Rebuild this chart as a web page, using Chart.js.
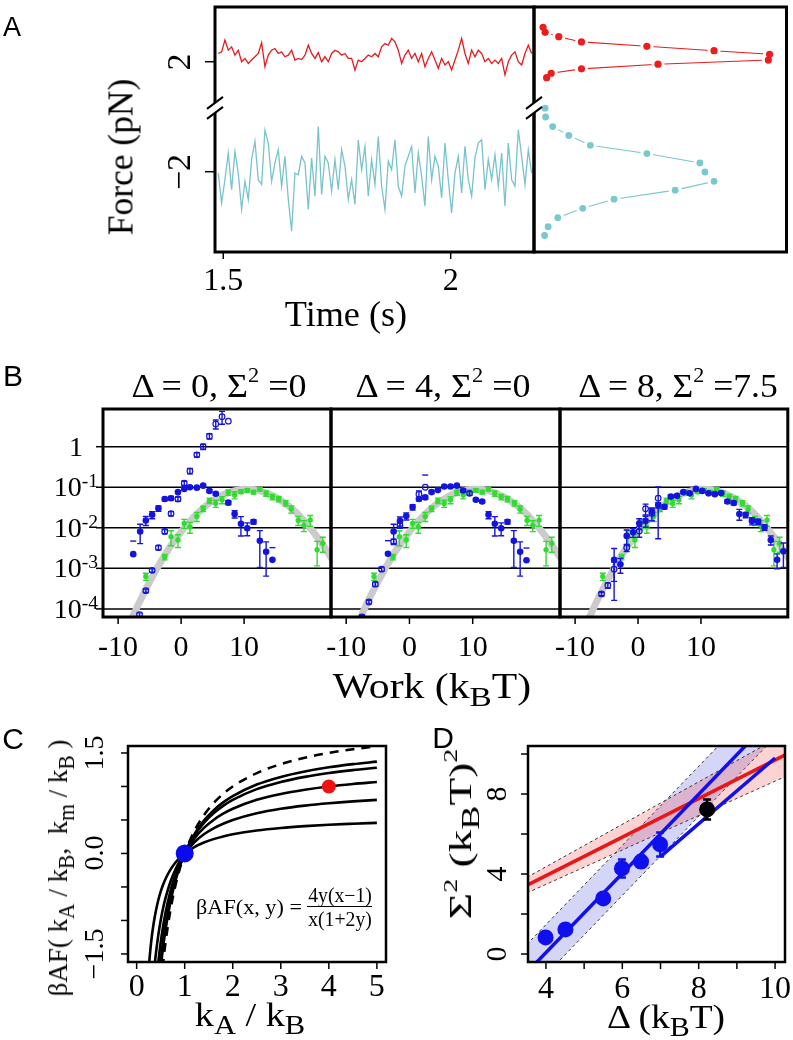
<!DOCTYPE html>
<html>
<head>
<meta charset="utf-8">
<script src="https://cdn.jsdelivr.net/npm/chart.js@4.4.1/dist/chart.umd.min.js"></script>
<style>
  html, body { margin: 0; padding: 0; background: #fff; }
  #page { position: relative; width: 793px; height: 1040px; overflow: hidden; }
  #page canvas { position: absolute; left: 0; top: 0; }
  .lbl { position: absolute; white-space: nowrap; line-height: 1; color: #000;
         font-family: "Liberation Serif", "DejaVu Serif", serif; }
  .sans { font-family: "Liberation Sans", "DejaVu Sans", sans-serif; }
  .lbl sub { font-size: 0.8em; vertical-align: -0.3em; line-height: 0; }
  .lbl sup { font-size: 0.62em; vertical-align: 0.7em; line-height: 0; }
  .lbl.tick sup { font-size: 0.7em; vertical-align: 0.45em; }
</style>
</head>
<body>
<div id="page"></div>
<script>
// ---- A: force traces (pN), one sample every traceStep seconds
var traceStart = 1.489, traceStep = 0.00733;
var redTrace = [2.30, 2.36, 2.79, 2.42, 2.54, 2.24, 2.42, 2.00, 2.12, 1.94,
  2.06, 2.18, 2.30, 2.69, 1.82, 2.24, 2.42, 2.48, 2.30, 2.36,
  2.18, 2.24, 2.42, 2.06, 2.12, 2.08, 2.24, 2.60, 2.30, 2.12,
  2.33, 2.00, 2.18, 2.00, 2.30, 2.42, 2.36, 2.24, 2.30, 2.12,
  2.12, 1.70, 2.06, 2.00, 2.12, 2.24, 2.18, 2.30, 2.18, 2.54,
  2.66, 2.60, 2.85, 2.72, 2.42, 1.94, 2.24, 2.42, 2.12, 2.30,
  2.00, 2.30, 1.82, 2.12, 2.36, 2.06, 1.76, 2.12, 1.88, 2.00,
  1.70, 2.06, 2.42, 2.85, 2.30, 1.94, 2.42, 2.18, 2.42, 2.30,
  2.00, 2.12, 1.94, 2.06, 1.94, 2.12, 1.52, 2.00, 2.24, 2.36,
  2.00, 1.88, 2.30, 2.60, 2.30];
var cyanTrace = [-2.05, -3.13, -2.29, -1.32, -2.65, -1.26, -2.05, -3.37, -2.35, -3.01,
  -1.56, -0.90, -2.29, -2.47, -0.48, -0.96, -2.35, -1.68, -1.20, -2.53,
  -1.44, -3.01, -4.16, -2.05, -2.11, -1.44, -1.68, -3.37, -1.50, -2.89,
  -0.36, -2.83, -1.44, -1.68, -2.71, -1.56, -2.65, -1.20, -1.80, -3.01,
  -2.29, -3.19, -0.84, -1.93, -1.08, -2.89, -1.56, -2.47, -0.72, -2.53,
  -3.37, -1.62, -1.93, -0.84, -2.53, -2.89, -1.80, -1.44, -1.08, -2.77,
  -1.32, -2.17, -3.25, -0.72, -2.29, -1.44, -1.80, -2.95, -0.96, -2.29,
  -3.50, -2.05, -1.44, -2.77, -1.08, -2.29, -2.89, -1.50, -0.96, -0.84,
  -2.65, -1.56, -2.29, -1.38, -2.53, -1.32, -3.25, -0.96, -2.29, -2.53,
  -0.48, -1.44, -2.47, -1.20, -2.05];
// ---- A: force histograms (relative counts)
var redHistCount = [0.036, 0.044, 0.098, 0.188, 0.447, 0.713, 0.933, 0.928, 0.491, 0.188, 0.068, 0.05];
var redHistForce = [3.25, 3.07, 2.91, 2.72, 2.56, 2.40, 2.27, 2.06, 1.91, 1.74, 1.58, 1.42];
var cyanHistCount = [0.044, 0.046, 0.074, 0.138, 0.223, 0.447, 0.657, 0.677, 0.713, 0.559, 0.317, 0.193, 0.094, 0.056, 0.042];
var cyanHistForce = [0.31, -0.01, -0.36, -0.68, -1.04, -1.34, -1.68, -2.01, -2.35, -2.67, -3.0, -3.33, -3.67, -4.0, -4.32];

// ---- B: work distributions, log10 P(W); errors are relative (sigma / P)
var greenW = [-5.6, -2.6, -1.6, -0.5, 0.5, 1.4, 2.5, 3.5, 4.5, 5.5, 6.5, 7.5, 8.5, 9.5, 10.5, 11.5, 12.5, 13.5, 14.5, 15.5, 16.6, 17.5, 18.6, 19.5, 20.5, 21.6, 22.5];
var greenP = [-3.20, -2.72, -2.22, -2.30, -1.89, -1.98, -1.72, -1.53, -1.33, -1.40, -1.31, -1.13, -1.19, -1.11, -1.08, -1.12, -1.05, -1.15, -1.24, -1.29, -1.39, -1.54, -1.82, -1.94, -1.81, -2.54, -2.38];
var greenErr = [0.2, 0.15, 0.4, 0.35, 0.25, 0.3, 0.25, 0.15, 0.15, 0.2, 0.2, 0.15, 0.2, 0.1, 0.1, 0.1, 0.1, 0.15, 0.15, 0.15, 0.15, 0.2, 0.25, 0.3, 0.3, 0.6, 0.4];
var gaussW = [-10, -8, -6, -4, -2, 0, 2, 4, 6, 8, 10, 12, 14, 16, 18, 20, 22, 24];
var gaussP = [-5.04, -4.30, -3.64, -3.05, -2.53, -2.10, -1.74, -1.45, -1.24, -1.11, -1.05, -1.07, -1.17, -1.34, -1.58, -1.91, -2.31, -2.78];

var b1FilledW = [-7.6, -6.5, -5.6, -4.6, -3.6, -2.6, -1.6, -0.5, 0.5, 1.4, 2.5, 3.5, 4.5, 5.5, 7.5, 8.5, 9.5, 10.5, 11.5, 12.5, 13.5, 14.5];
var b1FilledP = [-2.65, -2.09, -1.82, -1.68, -1.52, -1.29, -1.27, -1.12, -1.04, -1.00, -1.01, -0.96, -1.09, -1.16, -1.38, -1.66, -1.90, -2.01, -1.85, -2.32, -2.59, -2.79];
var b1FilledErr = [1.1, 0.5, 0.25, 0.2, 0.15, 0.1, 0.1, 0.08, 0.07, 0.06, 0.06, 0.06, 0.07, 0.08, 0.1, 0.2, 0.5, 0.35, 0.12, 0.78, 0.75, 1.0];
var b1OpenW = [-6.6, -5.6, -4.6, -3.6, -2.6, -1.6, -0.5, 0.5, 1.4, 2.5, 3.5, 4.5, 5.5, 6.5, 7.5];
var b1OpenP = [-4.14, -3.55, -3.05, -2.49, -2.09, -1.65, -1.29, -0.90, -0.60, -0.20, 0.00, 0.26, 0.56, 0.74, 0.63];
var b1OpenErr = [0.1, 0.1, 0.1, 0.12, 0.12, 0.12, 0.12, 0.12, 0.15, 0.12, 0.15, 0.15, 0.25, 0.35, 0];

var b2FilledW = [-3.4, -2.5, -1.5, -0.5, 0.5, 1.5, 2.5, 3.5, 4.5, 5.5, 6.5, 7.5, 8.5, 10.5, 11.5, 12.5, 13.5, 14.5, 15.5, 16.5, 17.5, 18.5];
var b2FilledP = [-2.64, -2.09, -1.83, -1.71, -1.49, -1.29, -1.25, -1.12, -1.07, -0.98, -0.98, -0.96, -1.08, -1.31, -1.35, -1.68, -1.90, -2.01, -1.85, -2.32, -2.59, -2.80];
var b2FilledErr = [1.1, 0.5, 0.25, 0.2, 0.15, 0.1, 0.1, 0.08, 0.07, 0.06, 0.06, 0.06, 0.07, 0.08, 0.08, 0.2, 0.5, 0.35, 0.12, 0.78, 0.75, 1.0];
var b2OpenW = [-7.5, -6.4, -5.4, -4.4, -2.5, -1.5, 1.5, 2.5, 9.5];
var b2OpenP = [-4.20, -3.83, -3.39, -3.02, -2.34, -1.94, -1.17, -1.00, -1.15];
var b2OpenErr = [0.1, 0.1, 0.12, 0.12, 0.15, 0.15, 0.2, 1.0, 0.1];

var b3FilledW = [-3.8, -2.8, -1.8, -0.8, 0.2, 1.2, 2.2, 3.2, 4.2, 5.2, 6.2, 7.2, 8.2, 9.2, 10.2, 11.2, 12.2, 13.2, 14.2, 15.2, 16.1, 17.1, 18.1, 19.1, 20.1, 21.1, 22.1, 23.1];
var b3FilledP = [-2.79, -2.90, -2.20, -2.11, -1.89, -1.83, -1.60, -1.44, -1.48, -1.23, -1.21, -1.12, -1.15, -1.04, -1.09, -1.15, -1.17, -1.14, -1.35, -1.39, -1.66, -1.68, -1.83, -1.85, -1.99, -2.30, -2.79, -2.58];
var b3FilledErr = [0.9, 0.4, 0.4, 0.25, 0.3, 0.3, 0.2, 0.15, 0.12, 0.1, 0.08, 0.06, 0.06, 0.06, 0.06, 0.06, 0.06, 0.06, 0.1, 0.1, 0.3, 0.15, 0.2, 0.15, 0.15, 0.25, 0.4, 0.6];
var b3OpenW = [-5.8, -4.8, -3.8, -1.8, 0.2, 1.2, 2.2, 3.2];
var b3OpenP = [-3.63, -3.42, -3.02, -2.49, -2.08, -1.53, -1.64, -1.27];
var b3OpenErr = [0.1, 0.15, 0.5, 0.2, 0.3, 0.3, 0.35, 0.9];

var workTicks = [-10, 0, 10], workTickLabels = ['-10', '0', '10'];
var probTicks = [0, -1, -2, -3, -4];
var probTickLabels = ['1', '10<sup>-1</sup>', '10<sup>-2</sup>', '10<sup>-3</sup>', '10<sup>-4</sup>'];

// ---- C: beta*A*F versus kA/kB, one curve per km/kB (0.2, 0.5, 1, 2, 3, limit)
var cRatio = [0.25, 0.3, 0.35, 0.4, 0.45, 0.5, 0.55, 0.6, 0.7, 0.8, 0.9, 1, 1.2, 1.4, 1.6, 1.8, 2, 2.5, 3, 3.5, 4, 4.5, 5];
var afY02 = [-1.714, -1.333, -1.061, -0.857, -0.698, -0.571, -0.468, -0.381, -0.245, -0.143, -0.063, 0, 0.095, 0.163, 0.214, 0.254, 0.286, 0.343, 0.381, 0.408, 0.429, 0.444, 0.457];
var afY05 = [-3, -2.333, -1.857, -1.5, -1.222, -1, -0.818, -0.667, -0.429, -0.25, -0.111, 0, 0.167, 0.286, 0.375, 0.444, 0.5, 0.6, 0.667, 0.714, 0.75, 0.778, 0.8];
var afY1 = [-4, -3.111, -2.476, -2, -1.630, -1.333, -1.091, -0.889, -0.571, -0.333, -0.148, 0, 0.222, 0.381, 0.5, 0.593, 0.667, 0.8, 0.889, 0.952, 1.0, 1.037, 1.067];
var afY2 = [-4.8, -3.733, -2.971, -2.4, -1.956, -1.6, -1.309, -1.067, -0.686, -0.4, -0.178, 0, 0.267, 0.457, 0.6, 0.711, 0.8, 0.96, 1.067, 1.143, 1.2, 1.244, 1.28];
var afY3 = [-5.143, -4.0, -3.184, -2.571, -2.095, -1.714, -1.403, -1.143, -0.735, -0.429, -0.190, 0, 0.286, 0.490, 0.643, 0.762, 0.857, 1.029, 1.143, 1.224, 1.286, 1.333, 1.371];
var afYInf = [-6, -4.667, -3.714, -3, -2.444, -2, -1.636, -1.333, -0.857, -0.5, -0.222, 0, 0.333, 0.571, 0.75, 0.889, 1.0, 1.2, 1.333, 1.429, 1.5, 1.556, 1.6];
var cPointRatio = [1, 4], cPointAF = [0, 1.0];

// ---- D: Sigma^2 versus Delta
var dDelta = [3.99, 4.51, 5.50, 5.99, 6.49, 6.99];
var dSigma2 = [0.83, 1.23, 2.78, 4.28, 4.62, 5.48];
var dSigmaErr = [0.15, 0.15, 0.2, 0.45, 0.3, 0.6];
var dBlackDelta = [8.22], dBlackSigma2 = [7.23], dBlackErr = [0.5];
var fitSteepX = [3.5, 10.3], fitSteepY = [-0.92, 12.54];
var fitLowX = [7.0, 10.0], fitLowY = [4.87, 9.80];
var blueBandHi = [0.48, 13.94], blueBandLo = [-2.02, 11.44];
var redLineX = [3.5, 10.3], redLineY = [3.43, 9.99];
var redBandHi = [3.83, 11.05], redBandLo = [3.05, 8.90];

// ------------------------------------------------------------------
var BLUE = '#1414dc', GREEN = '#30dc30';
var page = document.getElementById('page');

function pts(xs, ys) { return xs.map(function (x, i) { return {x: x, y: ys[i]}; }); }
function trace(ys) { return ys.map(function (y, i) { return {x: traceStart + i * traceStep, y: y}; }); }

function makeCanvas() {
    var c = document.createElement('canvas');
    c.width = 793; c.height = 1040;
    page.appendChild(c);
    return c.getContext('2d');
}

function baseOptions(box, xr, yr) {
    return {
        responsive: false, animation: false, devicePixelRatio: 1, events: [],
        layout: {padding: {left: box[0], top: box[1], right: 793 - box[2], bottom: 1040 - box[3]}},
        plugins: {legend: {display: false}, tooltip: {enabled: false}},
        elements: {line: {capBezierPoints: false}},
        scales: {
            x: {type: 'linear', display: false, min: xr[0], max: xr[1]},
            y: {type: 'linear', display: false, min: yr[0], max: yr[1]}
        }
    };
}

function label(html, x, y, size, opts) {
    opts = opts || {};
    var d = document.createElement('div');
    d.className = 'lbl' + (opts.sans ? ' sans' : '') + (opts.tick ? ' tick' : '');
    d.innerHTML = html;
    d.style.fontSize = size + 'px';
    d.style.left = x + 'px';
    d.style.top = y + 'px';
    page.appendChild(d);
    var sx = opts.width ? opts.width / d.offsetWidth : 1;
    d.style.transform = 'translate(-50%, -50%) rotate(' + (opts.rot || 0) + 'deg) scaleX(' + sx + ')';
}

function drawBreak(ctx, x, y) {
    ctx.fillStyle = '#fff';
    ctx.beginPath();
    ctx.moveTo(x - 8, y + 1); ctx.lineTo(x + 8, y - 11); ctx.lineTo(x + 8, y - 1); ctx.lineTo(x - 8, y + 11);
    ctx.closePath(); ctx.fill();
    ctx.lineWidth = 2;
    ctx.beginPath();
    ctx.moveTo(x - 8, y + 1); ctx.lineTo(x + 8, y - 11);
    ctx.moveTo(x - 8, y + 11); ctx.lineTo(x + 8, y - 1);
    ctx.stroke();
}

// box, tick marks and grid lines drawn R style around the chart area
function decor(cfg) {
    return {
        id: 'decor',
        beforeDatasetsDraw: function (chart) {
            if (!cfg.grid) return;
            var ctx = chart.ctx, a = chart.chartArea;
            ctx.save();
            ctx.strokeStyle = '#000'; ctx.lineWidth = cfg.grid.width;
            cfg.grid.at.forEach(function (v) {
                var p = chart.scales.y.getPixelForValue(v);
                ctx.beginPath(); ctx.moveTo(a.left, p); ctx.lineTo(a.right, p); ctx.stroke();
            });
            ctx.restore();
        },
        afterDraw: function (chart) {
            var ctx = chart.ctx, a = chart.chartArea;
            ctx.save();
            ctx.strokeStyle = '#000';
            ctx.lineWidth = cfg.border;
            ctx.strokeRect(a.left, a.top, a.right - a.left, a.bottom - a.top);
            (cfg.axes || []).forEach(function (ax) {
                var s = chart.scales[ax.id], horiz = ax.id === 'x';
                ctx.lineWidth = 1.5;
                ax.ticks.forEach(function (v) {
                    var p = s.getPixelForValue(v);
                    ctx.beginPath();
                    if (horiz) { ctx.moveTo(p, a.bottom); ctx.lineTo(p, a.bottom + ax.len); }
                    else { ctx.moveTo(a.left, p); ctx.lineTo(a.left - ax.len, p); }
                    ctx.stroke();
                });
            });
            if (cfg.breakAt !== undefined) drawBreak(ctx, a.left, chart.scales.y.getPixelForValue(cfg.breakAt));
            ctx.restore();
        }
    };
}

// tick labels as text, placed with the chart's own scales
function tickLabels(chart, axes) {
    axes.forEach(function (ax) {
        var s = chart.scales[ax.id], horiz = ax.id === 'x';
        ax.labels.forEach(function (txt, i) {
            var p = s.getPixelForValue(ax.at[i]);
            label(txt, horiz ? p : ax.pos, horiz ? ax.pos : p, ax.size, {rot: ax.rotate ? -90 : 0, tick: true});
        });
    });
}

function plot(config, cfg) {
    config.plugins = (config.plugins || []).concat([decor(cfg)]);
    var chart = new Chart(makeCanvas(), config);
    tickLabels(chart, cfg.axes || []);
    return chart;
}

// vertical error bars: errRel (relative, on log10 data) or errAbs
var errBars = {
    id: 'errBars',
    afterDatasetDraw: function (chart, args) {
        var ds = chart.data.datasets[args.index];
        if (!ds.errRel && !ds.errAbs) return;
        var ctx = chart.ctx, a = chart.chartArea, y = chart.scales.y, meta = args.meta;
        ctx.save();
        ctx.beginPath(); ctx.rect(a.left, a.top, a.right - a.left, a.bottom - a.top); ctx.clip();
        ctx.strokeStyle = ds.borderColor; ctx.lineWidth = ds.errWidth || 1.4;
        var cap = ds.errCap || 3;
        ds.data.forEach(function (pt, i) {
            var lo, hi;
            if (ds.errRel) {
                var r = ds.errRel[i];
                if (!r) return;
                hi = pt.y + Math.log10(1 + r);
                lo = r < 1 ? pt.y + Math.log10(1 - r) : null;
            } else {
                hi = pt.y + ds.errAbs[i]; lo = pt.y - ds.errAbs[i];
            }
            var px = meta.data[i].x, ph = y.getPixelForValue(hi);
            ctx.beginPath();
            ctx.moveTo(px - cap, ph); ctx.lineTo(px + cap, ph);
            if (lo !== null) {
                var pl = y.getPixelForValue(lo);
                ctx.moveTo(px, ph); ctx.lineTo(px, pl);
                ctx.moveTo(px - cap, pl); ctx.lineTo(px + cap, pl);
            }
            ctx.stroke();
        });
        ctx.restore();
    }
};

// ---------------- Panel A ----------------
plot({
    type: 'line',
    data: {datasets: [
        {data: trace(redTrace), borderColor: '#e8191f', borderWidth: 1.3, pointRadius: 0, clip: 0},
        {data: trace(cyanTrace), borderColor: '#78c3cc', borderWidth: 1.3, pointRadius: 0, clip: 0}
    ]},
    options: baseOptions([215, 7, 534, 252], [1.4818, 2.1832], [-4.92, 3.99])
}, {border: 3, breakAt: 0.32, axes: [
    {id: 'y', ticks: [2, -2], len: 10, at: [2, -2], labels: ['2', '\u22122'], pos: 179, rotate: true, size: 34},
    {id: 'x', ticks: [1.5, 2], len: 7, at: [1.5, 2], labels: ['1.5', '2'], pos: 279, size: 32}
]});

plot({
    type: 'line',
    data: {datasets: [
        {data: pts(redHistCount, redHistForce), showLine: false, pointRadius: 3.6, pointBackgroundColor: '#ee1c1c', pointBorderWidth: 0},
        {data: pts(cyanHistCount, cyanHistForce), showLine: false, pointRadius: 3.4, pointBackgroundColor: '#78c8cc', pointBorderWidth: 0},
        {data: pts(redHistCount, redHistForce), showLine: false, pointRadius: 6.5, pointBackgroundColor: '#fff', pointBorderWidth: 0},
        {data: pts(cyanHistCount, cyanHistForce), showLine: false, pointRadius: 6.5, pointBackgroundColor: '#fff', pointBorderWidth: 0},
        {data: pts(redHistCount, redHistForce), borderColor: '#ee1c1c', borderWidth: 1.1, pointRadius: 0},
        {data: pts(cyanHistCount, cyanHistForce), borderColor: '#78c8cc', borderWidth: 1.1, pointRadius: 0}
    ]},
    options: baseOptions([534, 7, 788, 252], [0, 1], [-4.92, 3.99])
}, {border: 3, breakAt: 0.32, axes: []});

// ---------------- Panel B ----------------
function workPanel(box, fW, fP, fE, oW, oP, oE, withY) {
    var axes = [{id: 'x', ticks: workTicks, len: 7, at: workTicks, labels: workTickLabels, pos: 646, size: 30}];
    if (withY) axes.push({id: 'y', ticks: probTicks, len: 7, at: probTicks, labels: probTickLabels, pos: 76, size: 28});
    plot({
        type: 'line',
        data: {datasets: [
            {data: pts(fW, fP), errRel: fE, showLine: false, pointRadius: 3.3, pointBackgroundColor: BLUE, borderColor: BLUE, pointBorderWidth: 0},
            {data: pts(oW, oP), errRel: oE, showLine: false, pointRadius: 2.8, pointBackgroundColor: 'rgba(0,0,0,0)', pointBorderColor: BLUE, borderColor: BLUE, pointBorderWidth: 1.2},
            {data: pts(greenW, greenP), errRel: greenErr, showLine: false, pointRadius: 2.7, pointBackgroundColor: GREEN, borderColor: GREEN, pointBorderWidth: 0},
            {data: pts(gaussW, gaussP), borderColor: '#cbcbcb', borderWidth: 7, pointRadius: 0, cubicInterpolationMode: 'monotone', clip: 0}
        ]},
        options: baseOptions(box, [-12.4, 23.8], [-4.2, 0.93]),
        plugins: [errBars]
    }, {border: 3, grid: {at: probTicks, width: 1.5}, axes: axes});
}
workPanel([103, 409, 331, 617], b1FilledW, b1FilledP, b1FilledErr, b1OpenW, b1OpenP, b1OpenErr, true);
workPanel([331, 409, 560, 617], b2FilledW, b2FilledP, b2FilledErr, b2OpenW, b2OpenP, b2OpenErr, false);
workPanel([560, 409, 788, 617], b3FilledW, b3FilledP, b3FilledErr, b3OpenW, b3OpenP, b3OpenErr, false);

// ---------------- Panel C ----------------
function curve(ys, dash) {
    return {data: pts(cRatio, ys), borderColor: '#000', borderWidth: 2.6, borderDash: dash || [],
            pointRadius: 0, cubicInterpolationMode: 'monotone', clip: 0};
}
plot({
    type: 'line',
    data: {datasets: [
        {data: [{x: cPointRatio[0], y: cPointAF[0]}], showLine: false, pointRadius: 9, pointBackgroundColor: '#0a0af0', pointBorderWidth: 0},
        {data: [{x: cPointRatio[1], y: cPointAF[1]}], showLine: false, pointRadius: 7, pointBackgroundColor: '#f01212', pointBorderWidth: 0},
        curve(afY02), curve(afY05), curve(afY1), curve(afY2), curve(afY3),
        curve(afYInf, [9, 7])
    ]},
    options: baseOptions([128, 746, 386, 962], [-0.18, 5.19], [-1.62, 1.604])
}, {border: 2.5, axes: [
    {id: 'y', ticks: [-1.5, -1, -0.5, 0, 0.5, 1, 1.5], len: 7, at: [1.5, 0, -1.5], labels: ['1.5', '0.0', '\u22121.5'], pos: 94, rotate: true, size: 28},
    {id: 'x', ticks: [0, 1, 2, 3, 4, 5], len: 7, at: [0, 1, 2, 3, 4, 5], labels: ['0', '1', '2', '3', '4', '5'], pos: 985, size: 32}
]});

// ---------------- Panel D ----------------
function fitLine(xs, ys, color) {
    return {data: pts(xs, ys), borderColor: color, borderWidth: 3.5, pointRadius: 0, clip: 0};
}
function bandEdge(xs, ys, fillColor) {
    var d = {data: pts(xs, ys), borderColor: '#333', borderWidth: 1, borderDash: [3, 3], pointRadius: 0, clip: 0};
    if (fillColor) { d.fill = '+1'; d.backgroundColor = fillColor; }
    return d;
}
plot({
    type: 'line',
    data: {datasets: [
        {data: pts(dBlackDelta, dBlackSigma2), errAbs: dBlackErr, errWidth: 2.5, errCap: 4, showLine: false, pointRadius: 8, pointBackgroundColor: '#000', borderColor: '#000', pointBorderWidth: 0},
        {data: pts(dDelta, dSigma2), errAbs: dSigmaErr, errWidth: 2.5, errCap: 4, showLine: false, pointRadius: 8, pointBackgroundColor: '#1010ee', borderColor: '#1010ee', pointBorderWidth: 0},
        fitLine(fitLowX, fitLowY, '#1010ee'),
        fitLine(fitSteepX, fitSteepY, '#1010ee'),
        fitLine(redLineX, redLineY, '#e81616'),
        bandEdge(redLineX, redBandHi, 'rgba(240,70,70,0.24)'),
        bandEdge(redLineX, redBandLo),
        bandEdge(fitSteepX, blueBandHi, 'rgba(80,80,225,0.24)'),
        bandEdge(fitSteepX, blueBandLo)
    ]},
    options: baseOptions([528, 746, 787, 962], [3.53, 10.26], [-0.4, 10.4]),
    plugins: [errBars]
}, {border: 2.5, axes: [
    {id: 'y', ticks: [0, 2, 4, 6, 8, 10], len: 7, at: [0, 4, 8], labels: ['0', '4', '8'], pos: 496, rotate: true, size: 30},
    {id: 'x', ticks: [4, 5, 6, 7, 8, 9, 10], len: 7, at: [4, 6, 8, 10], labels: ['4', '6', '8', '10'], pos: 987, size: 32}
]});

// ---------------- titles and panel letters ----------------
label('A', 12, 27, 27, {sans: true});
label('Force (pN)', 121, 157, 35, {rot: -90, width: 157});
label('Time (s)', 346, 314, 35, {width: 122});

label('B', 13, 376, 30, {sans: true});
label('\u0394 = 0, \u03a3<sup>2</sup> =0', 219, 386, 34, {width: 175});
label('\u0394 = 4, \u03a3<sup>2</sup> =0', 443, 386, 34, {width: 175});
label('\u0394 = 8, \u03a3<sup>2</sup> =7.5', 678, 386, 34, {width: 200});
label('Work (k<sub>B</sub>T)', 432, 686, 35, {width: 199});

label('C', 13, 739, 30, {sans: true});
label('\u03b2AF( k<sub>A</sub> / k<sub>B</sub>,&nbsp; k<sub>m</sub> / k<sub>B</sub> )', 58, 868, 28, {rot: -90, width: 257});
label('k<sub>A</sub> / k<sub>B</sub>', 250, 1015, 34, {width: 110});
label('\u03b2AF(x, y) =', 249, 907, 22, {width: 106});
label('4y(x\u22121)', 340, 895, 20, {width: 64});
label('x(1+2y)', 340, 919, 20, {width: 64});
var bar = document.createElement('div');
bar.style.cssText = 'position:absolute;left:307px;top:906px;width:65px;height:0;border-top:1px solid #000;';
page.appendChild(bar);

label('D', 443, 738, 30, {sans: true});
label('\u03a3<sup>2</sup> (k<sub>B</sub>T)<sup>2</sup>', 460, 834, 32, {rot: -90, width: 170});
label('\u0394 (k<sub>B</sub>T)', 666, 1017, 34, {width: 118});
</script>
</body>
</html>
